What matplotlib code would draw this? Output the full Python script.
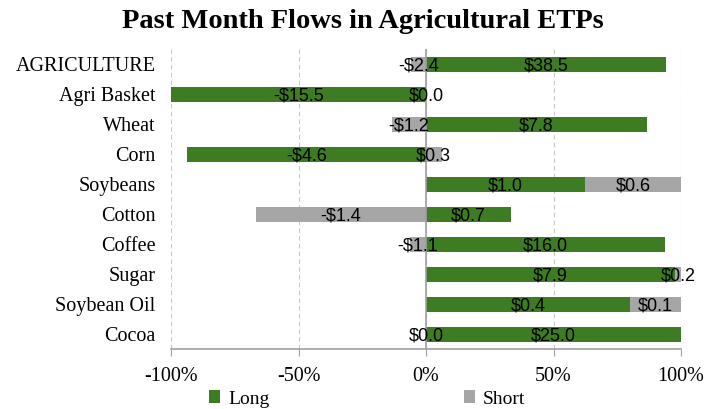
import matplotlib
matplotlib.use("Agg")
import matplotlib.pyplot as plt
import numpy as np

categories = ["AGRICULTURE", "Agri Basket", "Wheat", "Corn", "Soybeans",
              "Cotton", "Coffee", "Sugar", "Soybean Oil", "Cocoa"]
long_flows = [38.5, -15.5, 7.8, -4.6, 1.0, 0.7, 16.0, 7.9, 0.4, 25.0]
short_flows = [-2.4, 0.0, -1.2, 0.3, 0.6, -1.4, -1.1, 0.2, 0.1, 0.0]
long_labels = ["$38.5", "-$15.5", "$7.8", "-$4.6", "$1.0", "$0.7", "$16.0", "$7.9", "$0.4", "$25.0"]
short_labels = ["-$2.4", "$0.0", "-$1.2", "$0.3", "$0.6", "-$1.4", "-$1.1", "$0.2", "$0.1", "$0.0"]
xticks = [-1.0, -0.5, 0.0, 0.5, 1.0]
xticklabels = ["-100%", "-50%", "0%", "50%", "100%"]

GREEN = "#3d7c22"
GRAY = "#a6a6a6"
SERIF = ["Liberation Serif", "DejaVu Serif"]
SANS = ["Liberation Sans", "DejaVu Sans"]

long_arr = np.array(long_flows)
short_arr = np.array(short_flows)
total = np.abs(long_arr) + np.abs(short_arr)
long_pct = long_arr / total
short_pct = short_arr / total
same_sign = np.sign(long_pct) == np.sign(short_pct)
short_left = np.where(same_sign, long_pct, 0.0)

fig = plt.figure(figsize=(7.21, 4.09), dpi=100)
ax = fig.add_axes([171/721, 1 - 349/409, 510/721, 300/409])

y = np.arange(len(categories))
ax.barh(y, long_pct, left=0, height=0.5, color=GREEN, label="Long", zorder=3)
ax.barh(y, short_pct, left=short_left, height=0.5, color=GRAY, label="Short", zorder=3)

for i in range(len(categories)):
    ax.text(long_pct[i] / 2, y[i] + 0.06, long_labels[i], ha="center", va="center",
            fontsize=13, family=SANS, color="black", zorder=5)
    ax.text(short_left[i] + short_pct[i] / 2, y[i] + 0.06, short_labels[i], ha="center",
            va="center", fontsize=13, family=SANS, color="black", zorder=5)

ax.set_xlim(-1, 1)
ax.set_ylim(len(categories) - 0.5, -0.5)
ax.set_yticks(y)
ax.set_yticklabels(categories, family=SERIF, fontsize=14.5)
ax.set_xticks(xticks)
ax.set_xticklabels(xticklabels, family=SERIF, fontsize=14.5)
ax.tick_params(axis="y", length=0, pad=11)
ax.tick_params(axis="x", length=5, color="#a0a0a0", pad=8)

ax.grid(axis="x", color="#c8c8c8", linestyle=(0, (4, 3)), linewidth=0.8, zorder=0)
ax.axvline(0, color="#a0a0a0", linewidth=1.2, zorder=4)
for s in ["top", "right", "left"]:
    ax.spines[s].set_visible(False)
ax.spines["bottom"].set_color("#a0a0a0")
ax.spines["bottom"].set_linewidth(1.2)

fig.text(363/721, 1 - 22/409, "Past Month Flows in Agricultural ETPs",
         ha="center", va="center", fontsize=20.5, fontweight="bold", family=SERIF)

handles, labels = ax.get_legend_handles_labels()
fig.legend(handles, labels, loc="center", bbox_to_anchor=(367/721, 1 - 399/409),
           ncol=2, frameon=False, prop={"family": SERIF, "size": 14},
           handlelength=0.6, handleheight=0.6, handletextpad=0.4, columnspacing=10,
           borderaxespad=0)

fig.savefig("out.png", dpi=100)
